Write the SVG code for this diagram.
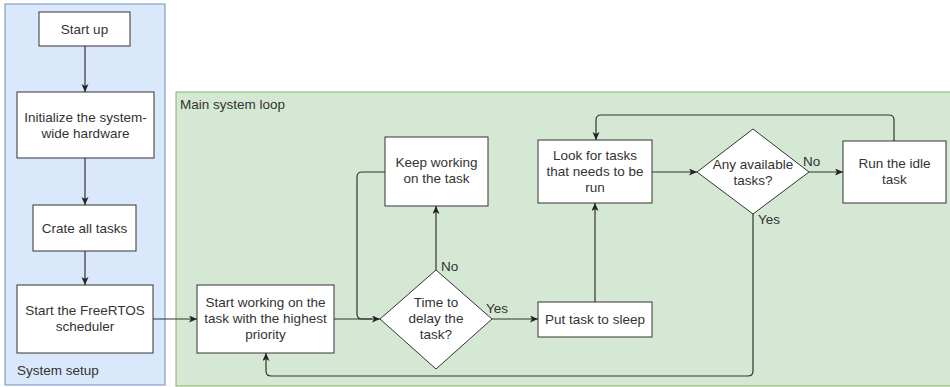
<svg xmlns="http://www.w3.org/2000/svg" width="950" height="387" viewBox="0 0 950 387">
  <style>
    .lane-setup { fill: #dae8fc; stroke: #6c8ebf; stroke-width: 1; }
    .lane-loop { fill: #d5e8d4; stroke: #82b366; stroke-width: 1; }
    .box { fill: #ffffff; stroke: #333333; stroke-width: 1; }
    .txt { font-family: "Liberation Sans", Arial, Helvetica, sans-serif; font-size: 13.5px; fill: #333333; text-anchor: middle; }
    .lbl { font-family: "Liberation Sans", Arial, Helvetica, sans-serif; font-size: 13.5px; fill: #333333; text-anchor: start; }
    .edge { fill: none; stroke: #333333; stroke-width: 1.2; marker-end: url(#arrow); }
    .plain { fill: none; stroke: #333333; stroke-width: 1.2; }
  </style>
  <defs>
    <marker id="arrow" markerUnits="userSpaceOnUse" markerWidth="9" markerHeight="8" refX="8" refY="3.5" orient="auto">
      <path d="M0,0 L8,3.5 L0,7 L2,3.5 z" fill="#222222"/>
    </marker>
  </defs>

  <!-- swimlane containers -->
  <g id="lane-system-setup">
    <rect class="lane-setup" x="5" y="4" width="160" height="381"/>
    <text class="lbl" x="17" y="375">System setup</text>
  </g>
  <g id="lane-main-loop">
    <rect class="lane-loop" x="176" y="92" width="790" height="294"/>
    <text class="lbl" x="180" y="109">Main system loop</text>
  </g>

  <!-- connectors -->
  <g id="connectors">
    <path class="edge" d="M85,46 L85,92"/>
    <path class="edge" d="M85,158 L85,205"/>
    <path class="edge" d="M85,251 L85,285"/>
    <path class="edge" d="M153,319 L197,319"/>
    <path class="edge" d="M334,319 L380,319"/>
    <path class="edge" d="M436,270 L436,206"/>
    <path class="plain" d="M385,172 L362,172 Q357,172 357,177 L357,314 Q357,319 362,319 L372,319"/>
    <path class="edge" d="M492,319 L538,319"/>
    <path class="edge" d="M595,302 L595,203"/>
    <path class="edge" d="M652,172 L697,172"/>
    <path class="edge" d="M809,172 L843,172"/>
    <path class="edge" d="M894,141 L894,120 Q894,115 889,115 L601,115 Q596,115 596,120 L596,140"/>
    <path class="edge" d="M753,214 L753,371 Q753,376 748,376 L271,376 Q266,376 266,371 L266,353"/>
    <!-- branch labels -->
    <text class="lbl" x="441" y="271">No</text>
    <text class="lbl" x="486" y="313">Yes</text>
    <text class="lbl" x="803" y="166">No</text>
    <text class="lbl" x="758" y="224">Yes</text>
  </g>

  <!-- setup nodes -->
  <g id="node-start-up">
    <rect class="box" x="39" y="12" width="91" height="34"/>
    <text class="txt" x="84.5" y="34">Start up</text>
  </g>
  <g id="node-init-hardware">
    <rect class="box" x="17" y="92" width="137" height="66"/>
    <text class="txt" x="85.5" y="122">Initialize the system-</text>
    <text class="txt" x="85.5" y="138">wide hardware</text>
  </g>
  <g id="node-create-tasks">
    <rect class="box" x="33" y="205" width="103" height="46"/>
    <text class="txt" x="84.5" y="233">Crate all tasks</text>
  </g>
  <g id="node-start-scheduler">
    <rect class="box" x="17" y="285" width="136" height="68"/>
    <text class="txt" x="85" y="315">Start the FreeRTOS</text>
    <text class="txt" x="85" y="331">scheduler</text>
  </g>

  <!-- main loop nodes -->
  <g id="node-start-working">
    <rect class="box" x="197" y="285" width="137" height="68"/>
    <text class="txt" x="265.5" y="307">Start working on the</text>
    <text class="txt" x="265.5" y="323">task with the highest</text>
    <text class="txt" x="265.5" y="339">priority</text>
  </g>
  <g id="node-delay-decision">
    <polygon class="box" points="436,270 492,319 436,369 380,319"/>
    <text class="txt" x="436" y="307">Time to</text>
    <text class="txt" x="436" y="323">delay the</text>
    <text class="txt" x="436" y="339">task?</text>
  </g>
  <g id="node-keep-working">
    <rect class="box" x="385" y="137" width="103" height="69"/>
    <text class="txt" x="436.5" y="167">Keep working</text>
    <text class="txt" x="436.5" y="183">on the task</text>
  </g>
  <g id="node-sleep">
    <rect class="box" x="538" y="302" width="114" height="35"/>
    <text class="txt" x="595" y="324">Put task to sleep</text>
  </g>
  <g id="node-look-for-tasks">
    <rect class="box" x="538" y="140" width="114" height="63"/>
    <text class="txt" x="595" y="160">Look for tasks</text>
    <text class="txt" x="595" y="176">that needs to be</text>
    <text class="txt" x="595" y="192">run</text>
  </g>
  <g id="node-available-decision">
    <polygon class="box" points="753,129 809,172 753,214 697,172"/>
    <text class="txt" x="753" y="169">Any available</text>
    <text class="txt" x="753" y="185">tasks?</text>
  </g>
  <g id="node-idle-task">
    <rect class="box" x="843" y="141" width="103" height="62"/>
    <text class="txt" x="894.5" y="168">Run the idle</text>
    <text class="txt" x="894.5" y="184">task</text>
  </g>
</svg>
